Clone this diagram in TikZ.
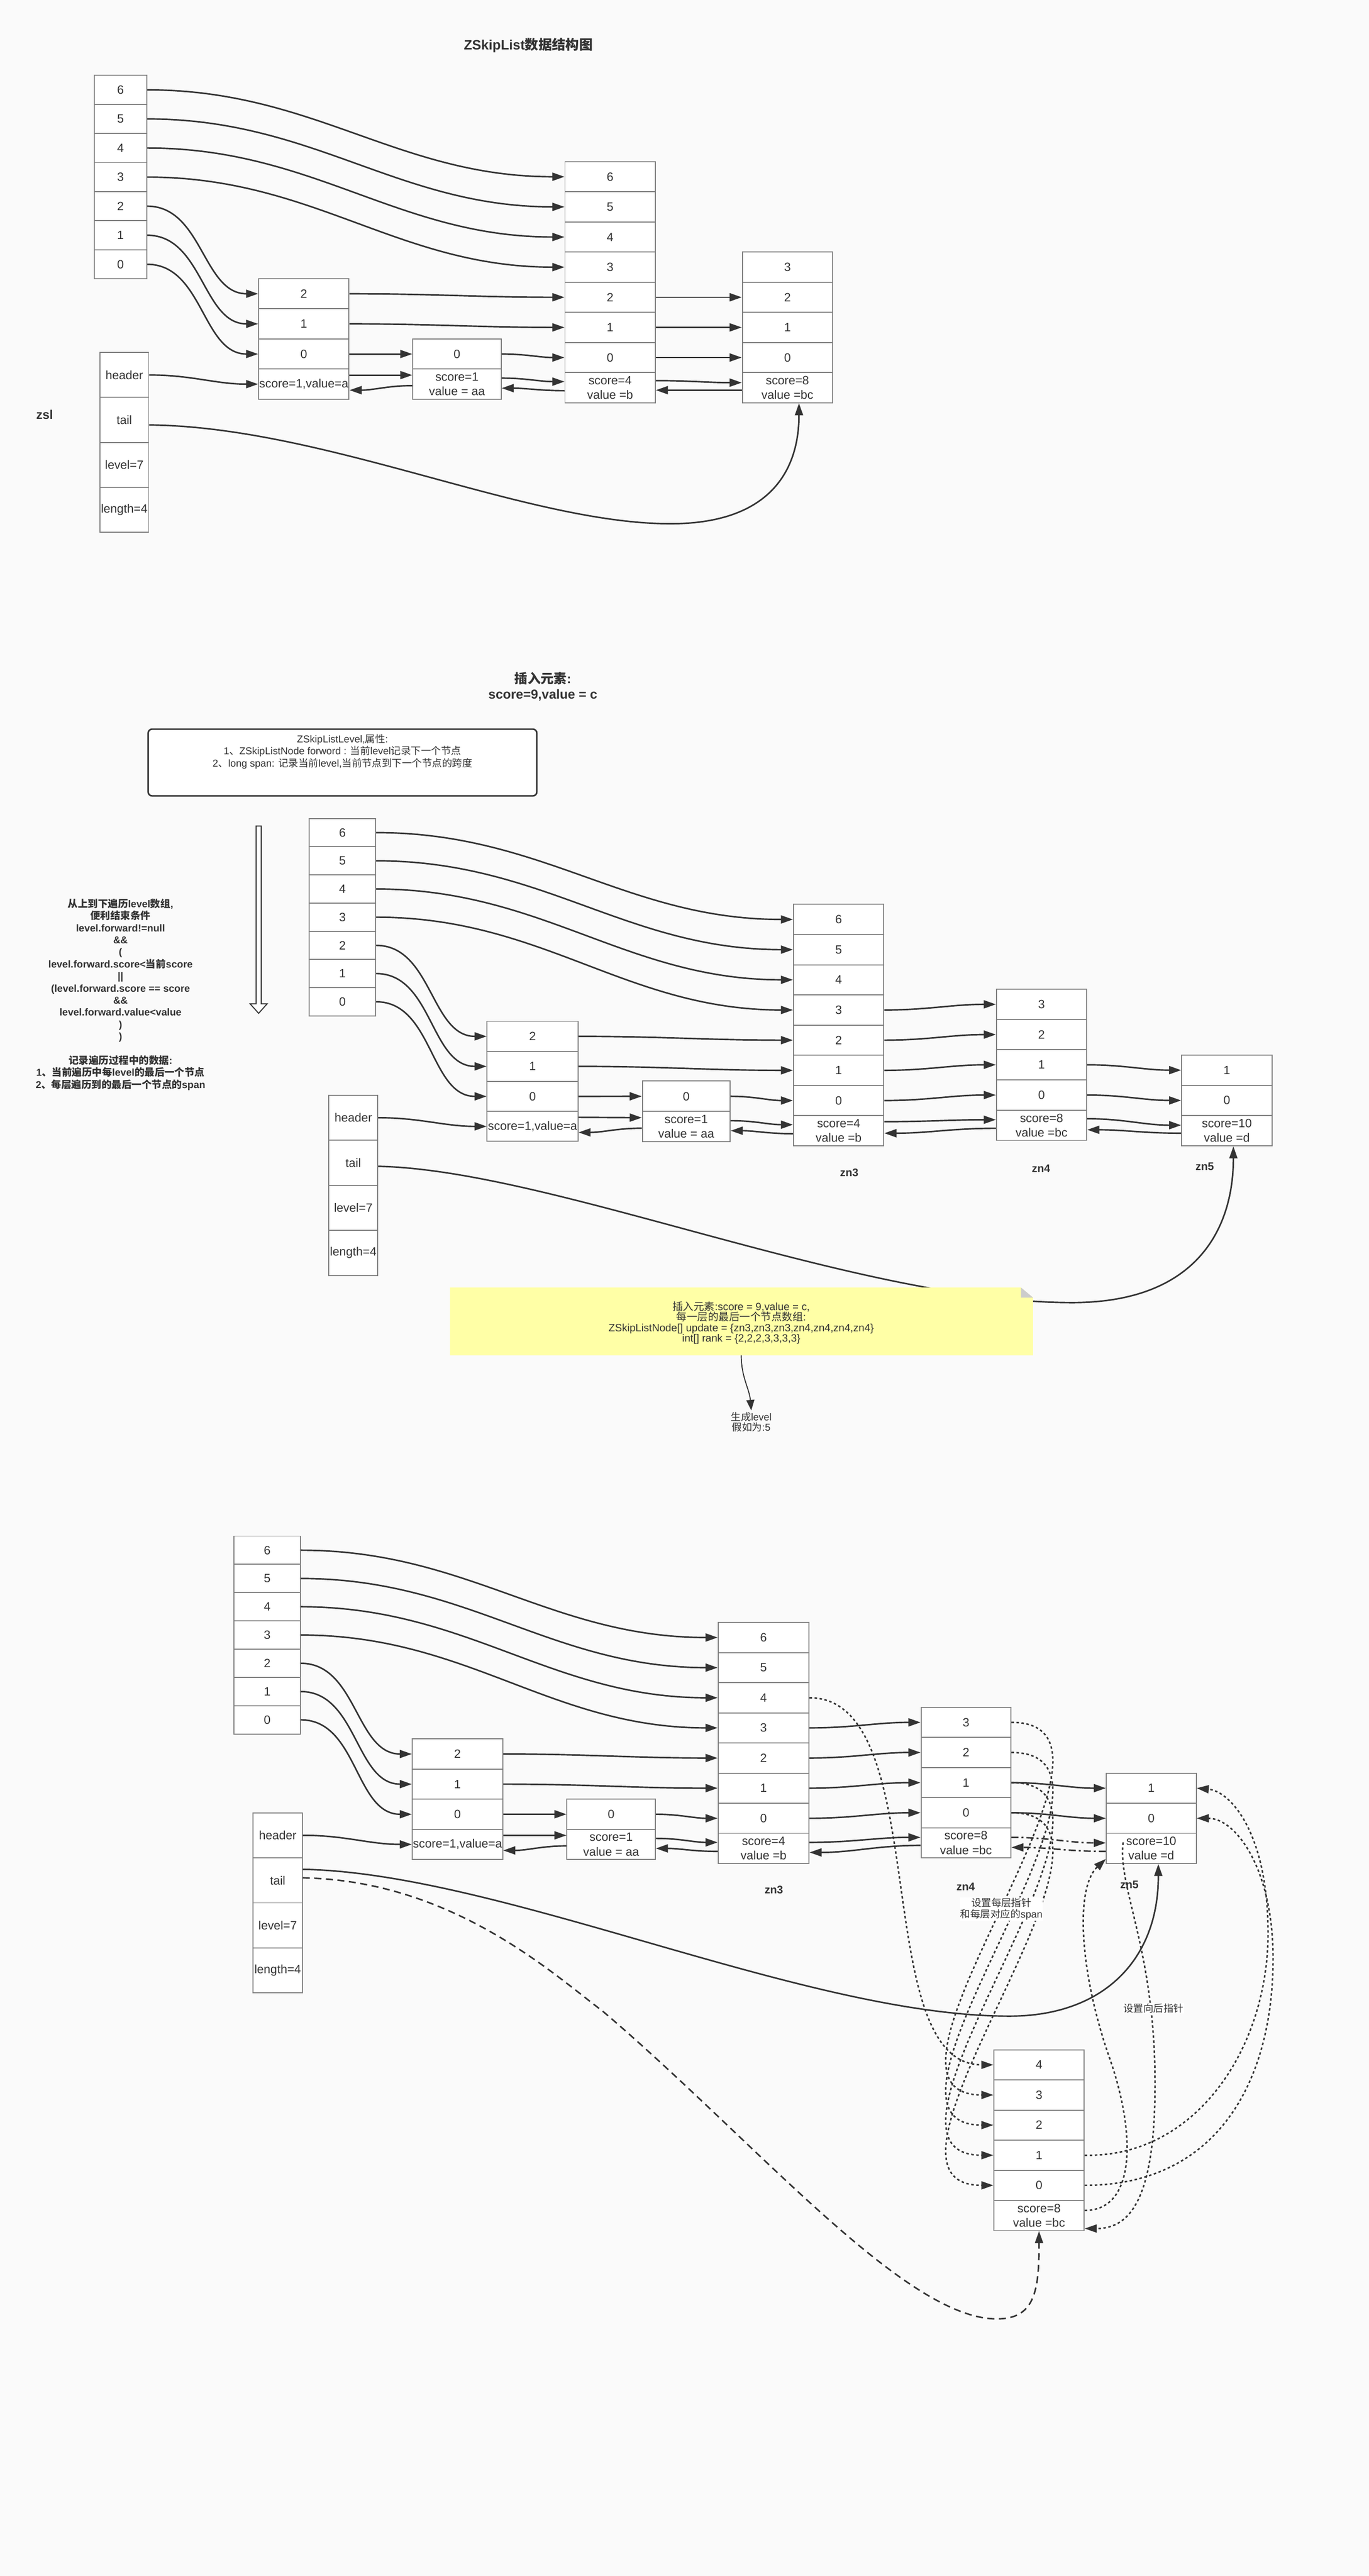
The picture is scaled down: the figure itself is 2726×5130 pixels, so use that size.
\documentclass[tikz,border=0pt]{standalone}
\usepackage{fontspec}
\setmainfont{Liberation Sans}
\newfontfamily\cjk{Noto Sans CJK SC}
\usetikzlibrary{arrows.meta,positioning}

\definecolor{bgcol}{RGB}{250,250,250}
\definecolor{linec}{RGB}{51,51,51}
\definecolor{cellgray}{RGB}{128,128,128}
\definecolor{noteyellow}{RGB}{255,255,166}
\definecolor{foldgray}{RGB}{204,204,204}

\tikzset{
  cell/.style={draw=cellgray, line width=2pt, fill=white, inner sep=0pt, align=center,
    text=linec, font=\fontsize{24}{29}\selectfont},
  link/.style={line width=3pt, draw=linec, -{Triangle[length=24pt,width=16pt]}},
  dotlink/.style={link, dash pattern=on 5pt off 5pt},
  dashlink/.style={link, dash pattern=on 14pt off 9pt},
  dashdotlink/.style={link, dash pattern=on 14pt off 6pt on 4pt off 6pt},
  title/.style={text=linec, inner sep=0pt, align=center, font=\bfseries\fontsize{27}{32}\selectfont},
  znlabel/.style={text=linec, inner sep=0pt, font=\bfseries\fontsize{22}{26}\selectfont},
  plaintext/.style={text=linec, inner sep=0pt, align=center, font=\fontsize{20}{24}\selectfont},
  edgelabel/.style={text=linec, fill=white, inner sep=1pt, align=center, font=\fontsize{20}{23}\selectfont},
}

% one column of cells: prefix, left x, top y, width, cell height, name/label list
\newcommand{\cellcol}[6]{%
  \foreach \nm/\lab [count=\k from 0] in {#6}
    \node[cell, minimum width=#4, minimum height=#5] (#1\nm) at ({#2+#4/2},{#3+#5*(\k+0.5)}) {\lab};
}

% arrows every section has
\newcommand{\basearrows}[1]{%
  \foreach \l in {6,5,4,3}
    \draw[link] (h#1-\l.east) to[out=0,in=180] (c#1-\l.west);
  \foreach \l in {2,1,0}
    \draw[link] (h#1-\l.east) to[out=0,in=180] (a#1-\l.west);
  \draw[link] (a#1-2.east) to[out=0,in=180] (c#1-2.west);
  \draw[link] (a#1-1.east) to[out=0,in=180] (c#1-1.west);
  \draw[link] (a#1-0.east) to[out=0,in=180] (b#1-0.west);
  \draw[link] (b#1-0.east) to[out=0,in=180] (c#1-0.west);
  \draw[link] (z#1-header.east) to[out=0,in=180] (a#1-s.west);
  \draw[link] ([yshift=18]a#1-s.east) -- ([yshift=18]b#1-s.west);
  \draw[link] ([yshift=-3]b#1-s.west) to[out=180,in=0] ([yshift=-12]a#1-s.east);
  \draw[link] ([yshift=12]b#1-s.east) to[out=0,in=180] ([yshift=12]c#1-s.west);
  \draw[link] ([yshift=-6]c#1-s.west) to[out=180,in=0] ([yshift=-8]b#1-s.east);
}

\begin{document}
\begin{tikzpicture}[x=1pt,y=-1pt]
% background
\fill[bgcol] (0,0) rectangle (2726,5130);

%%%%%%%% part 1
\node[title] (title1) at (1052,90) {ZSkipList{\cjk 数据结构图}};
\node[znlabel, font=\bfseries\fontsize{25}{30}\selectfont] (zsl1) at (89,826) {zsl};

\cellcol{h1-}{188}{150}{104}{57.9}{6/6,5/5,4/4,3/3,2/2,1/1,0/0}
\cellcol{z1-}{199}{702}{97}{89.5}{header/header,tail/tail,level/level=7,length/length=4}
\cellcol{a1-}{515}{555}{180}{60}{2/2,1/1,0/0,s/{score=1,value=a}}
\cellcol{b1-}{822}{675}{176}{60}{0/0,s/{score=1\\value = aa}}
\cellcol{c1-}{1125}{322}{180}{60}{6/6,5/5,4/4,3/3,2/2,1/1,0/0,s/{score=4\\value =b}}
\cellcol{d1-}{1478}{502}{180}{60}{3/3,2/2,1/1,0/0,s/{score=8\\value =bc}}

\basearrows{1}
\foreach \l in {2,1,0}
  \draw[link] (c1-\l.east) to[out=0,in=180] (d1-\l.west);
\draw[link] ([yshift=14]c1-s.east) to[out=0,in=180] ([yshift=10]d1-s.west);
\draw[link] ([yshift=-5]d1-s.west) -- ([yshift=-5]c1-s.east);
% tail
\draw[link] ([yshift=-10]z1-tail.east) .. controls (650,850) and (1050,1045) .. (1340,1043)
  .. controls (1540,1041) and (1591,930) .. ([xshift=23]d1-s.south);

%%%%%%%% part 2
\node[title, font=\bfseries\fontsize{26}{31}\selectfont] (title2) at (1081,1367.5) {{\cjk 插入元素}:\\score=9,value = c};

\node[draw=linec, line width=3pt, rounded corners=8pt, fill=white, minimum width=774,
  minimum height=133, inner sep=0pt] (lvlbox) at (682,1518.5) {};
\node[plaintext, anchor=north] (lvltext) at (682,1462) {ZSkipListLevel,{\cjk 属性}:\\1{\cjk 、}ZSkipListNode forword : {\cjk 当前}level{\cjk 记录下一个节点}\\2{\cjk 、}long span: {\cjk 记录当前}level,{\cjk 当前节点到下一个节点的跨度}};

\node[plaintext, font=\bfseries\fontsize{20}{24}\selectfont] (trav) at (240,1980.5) {{\cjk 从上到下遍历}level{\cjk 数组},\\{\cjk 便利结束条件}\\level.forward!=null\\\&\&\\(\\level.forward.score<{\cjk 当前}score\\||\\(level.forward.score == score\\\&\&\\level.forward.value<value\\)\\)\\[24pt]{\cjk 记录遍历过程中的数据}:\\1{\cjk 、当前遍历中每}level{\cjk 的最后一个节点}\\2{\cjk 、每层遍历到的最后一个节点的}span};

% hollow arrow
\draw[line width=2pt, draw=linec, fill=white] (510,1645) -- (520,1645) -- (520,1999) -- (532,1999)
  -- (515,2018) -- (498,1999) -- (510,1999) -- cycle;

\cellcol{h2-}{616}{1630}{132}{56.15}{6/6,5/5,4/4,3/3,2/2,1/1,0/0}
\cellcol{z2-}{655}{2181}{97}{89.75}{header/header,tail/tail,level/level=7,length/length=4}
\cellcol{a2-}{970}{2034}{181}{59.75}{2/2,1/1,0/0,s/{score=1,value=a}}
\cellcol{b2-}{1279}{2153}{175}{60.5}{0/0,s/{score=1\\value = aa}}
\cellcol{c2-}{1580}{1801}{180}{60.1}{6/6,5/5,4/4,3/3,2/2,1/1,0/0,s/{score=4\\value =b}}
\cellcol{d2-}{1984}{1970}{180}{60.2}{3/3,2/2,1/1,0/0,s/{score=8\\value =bc}}
\cellcol{e2-}{2353}{2101}{180}{60.3}{1/1,0/0,s/{score=10\\value =d}}

\node[znlabel] (zn3b) at (1691,2335) {zn3};
\node[znlabel] (zn4b) at (2073,2327) {zn4};
\node[znlabel] (zn5b) at (2399,2323) {zn5};

\basearrows{2}
\foreach \l in {3,2,1,0}
  \draw[link] (c2-\l.east) to[out=0,in=180] (d2-\l.west);
\draw[link] ([yshift=18]c2-s.east) to[out=0,in=180] ([yshift=11]d2-s.west);
\draw[link] ([yshift=-6]d2-s.west) to[out=180,in=0] ([yshift=-5]c2-s.east);
\foreach \l in {1,0}
  \draw[link] (d2-\l.east) to[out=0,in=180] (e2-\l.west);
\draw[link] ([yshift=13]d2-s.east) to[out=0,in=180] ([yshift=11]e2-s.west);
\draw[link] ([yshift=-5]e2-s.west) to[out=180,in=0] ([yshift=-9]d2-s.east);
% tail
\draw[link] ([yshift=-7]z2-tail.east) .. controls (1100,2330) and (1700,2592) .. (2130,2594)
  .. controls (2380,2596) and (2456,2450) .. ([xshift=13]e2-s.south);

% note
\fill[noteyellow] (896,2564) -- (2033,2564) -- (2057,2584) -- (2057,2699) -- (896,2699) -- cycle;
\fill[foldgray] (2033,2564) -- (2033,2584) -- (2057,2584) -- cycle;
\node[plaintext, font=\fontsize{21}{21}\selectfont] (note) at (1476,2634) {{\cjk 插入元素}:score = 9,value = c,\\{\cjk 每一层的最后一个节点数组}:\\ZSkipListNode[] update = \{zn3,zn3,zn3,zn4,zn4,zn4,zn4\}\\int[] rank = \{2,2,2,3,3,3,3\}};
\coordinate (notebase) at (1476,2699);
\node[plaintext, font=\fontsize{20}{20.5}\selectfont, inner sep=3pt] (gen) at (1496,2831.5) {{\cjk 生成}level\\{\cjk 假如为}:5};
\draw[link, line width=2pt, -{Triangle[length=21pt,width=16pt]}] (notebase) to[out=-90,in=95] (gen.north);

%%%%%%%% part 3
\cellcol{h3-}{466}{3059}{132}{56.3}{6/6,5/5,4/4,3/3,2/2,1/1,0/0}
\cellcol{z3-}{504}{3610}{98}{89.75}{header/header,tail/tail,level/level=7,length/length=4}
\cellcol{a3-}{821}{3463}{180}{60}{2/2,1/1,0/0,s/{score=1,value=a}}
\cellcol{b3-}{1129}{3583}{176}{60}{0/0,s/{score=1\\value = aa}}
\cellcol{c3-}{1430}{3231}{181}{60}{6/6,5/5,4/4,3/3,2/2,1/1,0/0,s/{score=4\\value =b}}
\cellcol{d3-}{1834}{3400}{179}{60}{3/3,2/2,1/1,0/0,s/{score=8\\value =bc}}
\cellcol{e3-}{2203}{3531}{179}{60}{1/1,0/0,s/{score=10\\value =d}}
\cellcol{f3-}{1979}{4082}{180}{60}{4/4,3/3,2/2,1/1,0/0,s/{score=8\\value =bc}}

\node[znlabel] (zn3c) at (1541,3763) {zn3};
\node[znlabel] (zn4c) at (1923,3757) {zn4};
\node[znlabel] (zn5c) at (2249,3753) {zn5};

\basearrows{3}
\foreach \l in {3,2,1,0}
  \draw[link] (c3-\l.east) to[out=0,in=180] (d3-\l.west);
\draw[link] ([yshift=12]c3-s.east) to[out=0,in=180] ([yshift=11]d3-s.west);
\draw[link] ([yshift=-5]d3-s.west) to[out=180,in=0] ([yshift=-8]c3-s.east);
\foreach \l in {1,0}
  \draw[link] (d3-\l.east) to[out=0,in=180] (e3-\l.west);
\draw[dashdotlink] ([yshift=11]d3-s.east) to[out=0,in=180] ([yshift=11]e3-s.west);
\draw[dashdotlink] ([yshift=-6]e3-s.west) to[out=180,in=0] ([yshift=-9]d3-s.east);

% tail, old and new
\draw[link] ([yshift=22]z3-tail.east) .. controls (1000,3730) and (1600,4015) .. (2010,4015)
  .. controls (2200,4015) and (2307,3900) .. ([xshift=14]e3-s.south);
\draw[dashlink] ([yshift=5]z3-tail.east) .. controls (900,3745) and (1100,3930) .. (1200,4005)
  .. controls (1500,4260) and (1800,4618) .. (1985,4618)
  .. controls (2062,4618) and (2069,4560) .. (f3-s.south);

% forward pointers of the new node
\draw[dotlink] (c3-4.east) .. controls +(250,0) and +(-250,0) .. (f3-4.west);
\foreach \l in {3,2,1,0}
  \draw[dotlink] (d3-\l.east) .. controls +(300,0) and +(-300,0) .. (f3-\l.west);
\draw[dotlink] (f3-1.east) .. controls (2380,4297) and (2525,4080) .. (2525,3850)
  .. controls (2525,3650) and (2450,3567) .. (e3-1.east);
\draw[dotlink] (f3-0.east) .. controls (2420,4352) and (2535,4150) .. (2535,3900)
  .. controls (2535,3720) and (2460,3621) .. (e3-0.east);

% backward pointers
\draw[dotlink] ([yshift=10]f3-s.east) .. controls (2262,4402) and (2262,4250) .. (2210,4100)
  .. controls (2150,3930) and (2140,3760) .. ([yshift=10]e3-s.south west);
\coordinate (e3back) at ([xshift=-56,yshift=12]e3-s.center);
\draw[dotlink] (e3back) .. controls (2225,3760) and (2300,3880) .. (2300,4150)
  .. controls (2300,4380) and (2250,4438) .. ([yshift=-26]f3-s.east);

\node[edgelabel] (ptrlabel) at (1994,3801.5) {{\cjk 设置每层指针}\\{\cjk 和每层对应的}span};
\node[edgelabel] (backlabel) at (2297,3999) {{\cjk 设置向后指针}};
\end{tikzpicture}
\end{document}
